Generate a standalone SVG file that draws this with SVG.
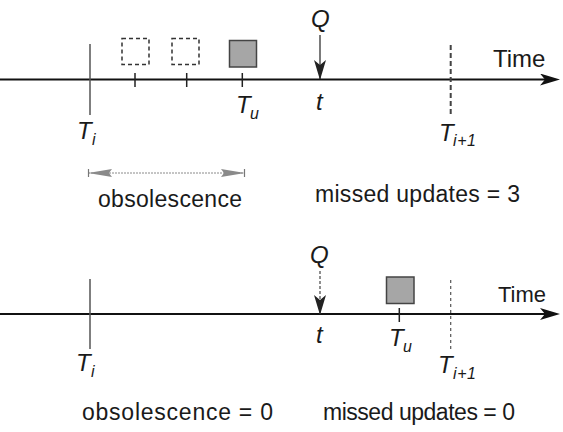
<svg xmlns="http://www.w3.org/2000/svg" width="563" height="432" viewBox="0 0 563 432">
<defs>
<style>
text{font-family:"Liberation Sans",Arial,sans-serif;fill:#1a1a1a}
.m{font-style:italic;font-size:24px}
.s{font-style:italic;font-size:16px}
.lbl{font-size:23px}
.axis{stroke:#111;stroke-width:2;fill:none}
.vline{stroke:#555;stroke-width:1.5;fill:none}
.dbox{fill:none;stroke:#333;stroke-width:1.5;stroke-dasharray:4 3}
.fbox{fill:#a6a6a6;stroke:#444;stroke-width:1.5}
.tick{stroke:#222;stroke-width:1.5}
</style>
<marker id="ah" markerUnits="userSpaceOnUse" markerWidth="20" markerHeight="12" refX="8" refY="6" orient="auto">
<path d="M0,0 L20,6 L0,12 L5,6 Z" fill="#111"/>
</marker>
<marker id="qh" markerUnits="userSpaceOnUse" markerWidth="20" markerHeight="12" refX="19" refY="6" orient="auto">
<path d="M0,0 L20,6 L0,12 L5,6 Z" fill="#222"/>
</marker>
<marker id="gh" markerUnits="userSpaceOnUse" markerWidth="24" markerHeight="8" refX="24" refY="4" orient="auto-start-reverse">
<path d="M0,0 L24,4 L0,8 L3,4 Z" fill="#8a8a8a"/>
</marker>
</defs>

<g id="connectors">
<line class="axis" x1="0" y1="79.5" x2="548" y2="79.5" marker-end="url(#ah)"/>
<line class="axis" x1="0" y1="314" x2="548" y2="314" marker-end="url(#ah)"/>
<line x1="320" y1="35" x2="320" y2="79" stroke="#222" stroke-width="1.2" marker-end="url(#qh)"/>
<line x1="320" y1="271" x2="320" y2="314" stroke="#444" stroke-width="1.2" stroke-dasharray="3 2" marker-end="url(#qh)"/>
<line x1="88" y1="173" x2="245" y2="173" stroke="#8a8a8a" stroke-width="1" stroke-dasharray="2 1" marker-start="url(#gh)" marker-end="url(#gh)"/>
<line x1="88.5" y1="169" x2="88.5" y2="177" stroke="#777" stroke-width="1.2"/>
<line x1="244.5" y1="169" x2="244.5" y2="177" stroke="#777" stroke-width="1.2"/>
</g>

<g id="timeline1">
<line class="vline" x1="90" y1="44" x2="90" y2="115"/>
<line x1="450.7" y1="45" x2="450.7" y2="117" stroke="#444" stroke-width="2" stroke-dasharray="5 3"/>
<line class="tick" x1="135" y1="73" x2="135" y2="87"/>
<line class="tick" x1="186.7" y1="73" x2="186.7" y2="87"/>
<line class="tick" x1="242.3" y1="73" x2="242.3" y2="87"/>
<text x="493" y="67" font-size="24">Time</text>
</g>

<g id="missed-update-1"><rect class="dbox" x="122" y="38.5" width="27" height="26"/></g>
<g id="missed-update-2"><rect class="dbox" x="172" y="38.5" width="27" height="26"/></g>
<g id="update-1"><rect class="fbox" x="229.5" y="40.5" width="27" height="26.5"/></g>

<g id="labels1">
<text class="m" x="311" y="27" font-size="23">Q</text>
<text class="m" x="316" y="110">t</text>
<text class="m" x="77" y="139">T</text><text class="s" x="92" y="145">i</text>
<text class="m" x="236" y="113">T</text><text class="s" x="250" y="119">u</text>
<text class="m" x="439" y="141">T</text><text class="s" x="453" y="146" textLength="23">i+1</text>
<text class="lbl" x="98" y="207" textLength="144">obsolescence</text>
<text class="lbl" x="315" y="202" textLength="205">missed updates = 3</text>
</g>

<g id="timeline2">
<line class="vline" x1="90" y1="279" x2="90" y2="349"/>
<line x1="450.7" y1="280" x2="450.7" y2="350" stroke="#555" stroke-width="1.2" stroke-dasharray="3 3"/>
<line class="tick" x1="399.3" y1="308" x2="399.3" y2="322"/>
<text x="498" y="302" font-size="22">Time</text>
</g>

<g id="update-2"><rect class="fbox" x="386.5" y="277" width="27.5" height="26.5"/></g>

<g id="labels2">
<text class="m" x="310" y="263" font-size="23">Q</text>
<text class="m" x="316" y="343">t</text>
<text class="m" x="76" y="371">T</text><text class="s" x="91" y="377">i</text>
<text class="m" x="389" y="346">T</text><text class="s" x="403" y="352">u</text>
<text class="m" x="438" y="373">T</text><text class="s" x="453" y="379" textLength="23">i+1</text>
<text class="lbl" x="82" y="420" textLength="191">obsolescence = 0</text>
<text class="lbl" x="323" y="420" textLength="192">missed updates = 0</text>
</g>
</svg>
